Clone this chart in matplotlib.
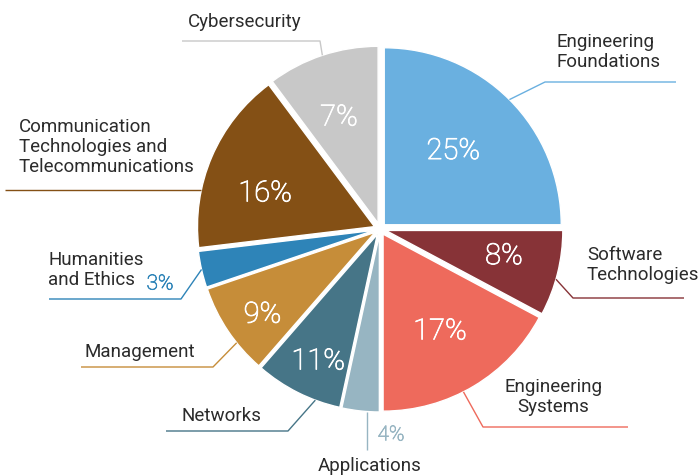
import math
import numpy as np
import matplotlib
matplotlib.use("Agg")
import matplotlib.pyplot as plt
import matplotlib.patheffects as pe

# ---------------- data ----------------
categories = ["Engineering\nFoundations", "Software\nTechnologies", "Engineering\nSystems",
              "Applications", "Networks", "Management", "Humanities\nand Ethics",
              "Communication\nTechnologies and\nTelecommunications", "Cybersecurity"]
# slice shares as drawn in the reference (percent of the full circle)
shares = [25.0, 7.8, 17.2, 3.4, 8.0, 8.4, 3.3, 16.7, 10.2]
# percentage labels as printed on the chart
pct_labels = ["25%", "8%", "17%", "4%", "11%", "9%", "3%", "16%", "7%"]
colors = ["#6AB0E0", "#873337", "#EE6A5C", "#97B5C2", "#467587",
          "#C68D39", "#2E84B8", "#845015", "#C8C8C8"]

# ---------------- layout ----------------
W, H = 699, 476
def Y(y):
    return H - y

CX, CY, R = 380, 229, 177
EXPL = 6

fig = plt.figure(figsize=(W / 100, H / 100), dpi=100)
ax = fig.add_axes([0, 0, 1, 1])

wedges, _ = ax.pie(shares, colors=colors, startangle=90, counterclock=False,
                   radius=R, center=(CX, Y(CY)), explode=[EXPL] * len(shares),
                   wedgeprops=dict(edgecolor="white", linewidth=1.0))

ax.set_xlim(0, W)
ax.set_ylim(0, H)
ax.set_aspect("equal")
ax.axis("off")

PCT_FONT = dict(family=["Roboto", "DejaVu Sans"], weight="light")
LBL_FONT = dict(family=["Roboto", "DejaVu Sans"], weight="normal")
LBL_COLOR = "#2b2b2b"
PCT_SIZE = 21

# in-slice percentage placement: (angle override or None, fraction of radius)
pct_place = [(47.8, 0.58), (-11.2, 0.68), (-59.1, 0.625), None, (-115.4, 0.78),
             (-144.6, 0.78), None, (162.0, 0.65), (109.9, 0.65)]
outside_pct_pos = {3: (391, 435), 6: (160, 284)}

# leader lines: anchor angle (None = mid angle), elbow point, end x
leaders = [
    (None, (545, 82), 676),
    (-16, (573, 298), 684),
    (-63, (483, 427), 628),
    (-94, None, None),
    (-110.5, (288, 431), 166),
    (-141.4, (213, 367), 81),
    (None, (181, 299), 49),
    (168, None, 5),
    (None, (320, 41), 182),
]
# text positions (pixel), horizontal alignment
text_pos = [
    ((556, 52), "left"),
    ((587, 265), "left"),
    ((553, 397), "center"),
    ((370, 466), "center"),
    ((221, 416), "center"),
    ((140, 352), "center"),
    ((48, 270), "left"),
    ((19, 147), "left"),
    ((245, 22), "center"),
]

digit_half = 0.71 * PCT_SIZE * 100 / 72 / 2

for i, w in enumerate(wedges):
    t1, t2 = w.theta1, w.theta2
    mid = 0.5 * (t1 + t2)
    wx, wy = w.center
    # percentage label
    if pct_place[i] is not None:
        pa, pf = pct_place[i]
        pa = mid if pa is None else pa
        d = pf * w.r
        px = wx + d * math.cos(math.radians(pa))
        py = wy + d * math.sin(math.radians(pa))
        ax.text(px, py - digit_half, pct_labels[i], color="white", fontsize=PCT_SIZE,
                ha="center", va="baseline",
                path_effects=[pe.withStroke(linewidth=0.6, foreground="white")],
                **PCT_FONT)
    else:
        ox, oy = outside_pct_pos[i]
        ax.text(ox, Y(oy), pct_labels[i], color=colors[i], fontsize=15,
                ha="center", va="center",
                path_effects=[pe.withStroke(linewidth=0.5, foreground=colors[i])],
                **PCT_FONT)
    # leader line
    ang, elbow, endx = leaders[i]
    a = mid if ang is None else ang
    sx = wx + w.r * math.cos(math.radians(a))
    sy = wy + w.r * math.sin(math.radians(a))
    xs, ys = [sx], [sy]
    if elbow is None and endx is None:
        xs.append(sx)
        ys.append(Y(450))
    elif elbow is None:
        xs.append(endx)
        ys.append(sy)
    else:
        xs += [elbow[0], endx]
        ys += [Y(elbow[1]), Y(elbow[1])]
    ax.plot(xs, ys, color=colors[i], lw=1.0, solid_capstyle="butt")
    # category label
    (tx, ty), ha = text_pos[i]
    ax.text(tx, Y(ty), categories[i], color=LBL_COLOR, fontsize=13.5,
            ha=ha, va="center", multialignment=ha, linespacing=1.15, **LBL_FONT)

fig.savefig("out.png", dpi=100)
